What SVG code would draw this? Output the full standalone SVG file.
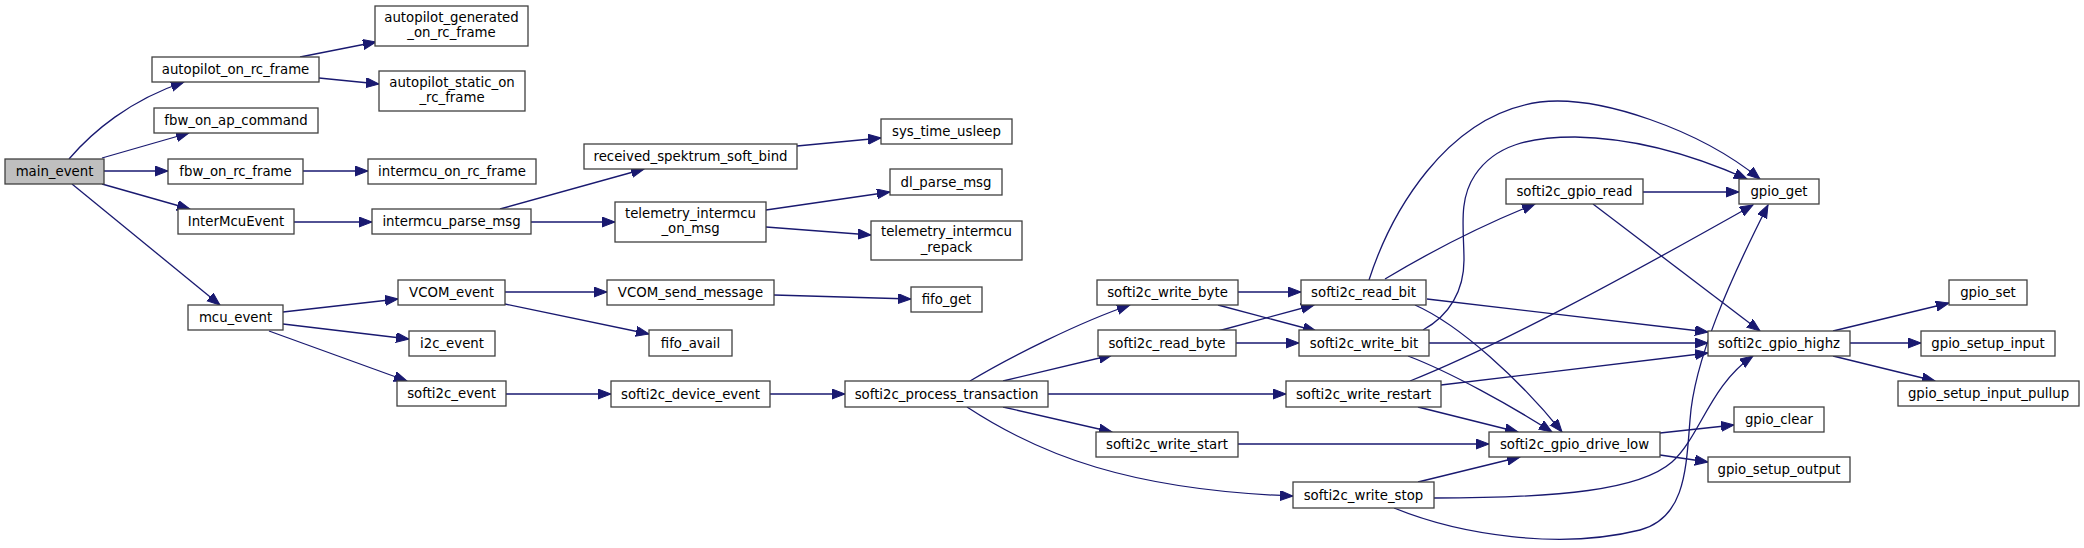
<svg xmlns="http://www.w3.org/2000/svg" width="2084" height="548" viewBox="0 0 2084 548">
<style>
.n rect{fill:#ffffff;stroke:#404040;stroke-width:1.3}
.n text{font-family:"DejaVu Sans","Liberation Sans",sans-serif;font-size:13.3px;fill:#000;text-anchor:middle}
#main_event rect{fill:#bfbfbf}
#edges path{fill:none;stroke:#191970;stroke-width:1.3;marker-end:url(#arr)}
</style>
<defs>
<marker id="arr" markerUnits="userSpaceOnUse" markerWidth="14" markerHeight="11" refX="13" refY="5" orient="auto" viewBox="0 0 14 11">
<path d="M0,0 L13,5 L0,10 z" fill="#191970" stroke="#191970" stroke-width="1"/>
</marker>
</defs>
<rect width="2084" height="548" fill="#ffffff"/>
<g id="edges">
<path d="M69,159 C92,132 130,100 184,82"/>
<path d="M102,158 L189,133"/>
<path d="M104,171 L168,171"/>
<path d="M102,184 L190,209"/>
<path d="M72,184 L220,305"/>
<path d="M300,57 L376,42"/>
<path d="M319,78 L379,84"/>
<path d="M303,171 L368,171"/>
<path d="M294,222 L372,222"/>
<path d="M500,209 L644,169"/>
<path d="M531,222 L615,222"/>
<path d="M797,146 L881,138"/>
<path d="M766,210 L890,192"/>
<path d="M766,227 L871,235"/>
<path d="M283,312 L398,299"/>
<path d="M283,324 L409,339"/>
<path d="M269,331 L407,381"/>
<path d="M505,292 L607,292"/>
<path d="M505,304 L649,334"/>
<path d="M774,295 L911,299"/>
<path d="M506,394 L611,394"/>
<path d="M770,394 L845,394"/>
<path d="M970,381 C1010,357 1080,322 1130,305"/>
<path d="M1003,381 L1112,355"/>
<path d="M1048,394 L1286,394"/>
<path d="M1003,407 L1112,432"/>
<path d="M967,407 C1040,455 1130,490 1293,496"/>
<path d="M1238,292 L1301,292"/>
<path d="M1218,305 L1316,331"/>
<path d="M1218,331 L1314,305"/>
<path d="M1236,343 L1299,343"/>
<path d="M1369,280 C1390,215 1445,115 1540,102 C1600,95 1700,130 1760,179"/>
<path d="M1385,279 C1420,258 1470,230 1535,204"/>
<path d="M1427,299 L1708,332"/>
<path d="M1415,305 C1460,325 1520,380 1562,432"/>
<path d="M1423,330 C1450,315 1464,290 1464,260 C1464,230 1458,200 1475,175 C1495,145 1530,137 1575,137 C1640,138 1700,158 1747,179"/>
<path d="M1429,343 L1708,343"/>
<path d="M1408,356 C1450,372 1510,405 1552,432"/>
<path d="M1410,381 C1500,345 1620,280 1753,205"/>
<path d="M1441,385 L1708,353"/>
<path d="M1418,407 L1518,432"/>
<path d="M1238,444 L1489,444"/>
<path d="M1418,482 L1520,457"/>
<path d="M1434,498 C1560,498 1640,490 1672,462 C1700,437 1710,385 1753,356"/>
<path d="M1394,508 C1460,535 1560,550 1640,530 C1685,518 1686,470 1690,420 C1694,360 1730,280 1768,205"/>
<path d="M1643,192 L1739,192"/>
<path d="M1593,204 L1760,331"/>
<path d="M1833,331 L1949,303"/>
<path d="M1850,343 L1921,343"/>
<path d="M1833,356 L1935,381"/>
<path d="M1660,433 L1734,425"/>
<path d="M1660,455 L1708,462"/>
</g>
<g id="main_event" class="n"><rect x="5" y="159" width="99" height="25"/><text x="54.5" y="176">main_event</text></g>
<g id="autopilot_on_rc_frame" class="n"><rect x="152" y="57" width="167" height="25"/><text x="235.5" y="74">autopilot_on_rc_frame</text></g>
<g id="autopilot_generated_on_rc_frame" class="n"><rect x="375" y="6" width="153" height="40"/><text x="451.5" y="21.5">autopilot_generated</text><text x="451.5" y="37">_on_rc_frame</text></g>
<g id="autopilot_static_on_rc_frame" class="n"><rect x="379" y="71" width="146" height="40"/><text x="452" y="86.5">autopilot_static_on</text><text x="452" y="102">_rc_frame</text></g>
<g id="fbw_on_ap_command" class="n"><rect x="154" y="108" width="164" height="25"/><text x="236" y="125">fbw_on_ap_command</text></g>
<g id="fbw_on_rc_frame" class="n"><rect x="168" y="159" width="135" height="25"/><text x="235.5" y="176">fbw_on_rc_frame</text></g>
<g id="intermcu_on_rc_frame" class="n"><rect x="368" y="159" width="168" height="25"/><text x="452" y="176">intermcu_on_rc_frame</text></g>
<g id="InterMcuEvent" class="n"><rect x="178" y="209" width="116" height="25"/><text x="236" y="226">InterMcuEvent</text></g>
<g id="intermcu_parse_msg" class="n"><rect x="372" y="209" width="159" height="25"/><text x="451.5" y="226">intermcu_parse_msg</text></g>
<g id="mcu_event" class="n"><rect x="188" y="305" width="95" height="25"/><text x="235.5" y="322">mcu_event</text></g>
<g id="VCOM_event" class="n"><rect x="398" y="280" width="107" height="25"/><text x="451.5" y="297">VCOM_event</text></g>
<g id="i2c_event" class="n"><rect x="409" y="331" width="86" height="25"/><text x="452" y="348">i2c_event</text></g>
<g id="softi2c_event" class="n"><rect x="397" y="381" width="109" height="25"/><text x="451.5" y="398">softi2c_event</text></g>
<g id="received_spektrum_soft_bind" class="n"><rect x="584" y="144" width="213" height="25"/><text x="690.5" y="161">received_spektrum_soft_bind</text></g>
<g id="sys_time_usleep" class="n"><rect x="881" y="119" width="131" height="25"/><text x="946.5" y="136">sys_time_usleep</text></g>
<g id="telemetry_intermcu_on_msg" class="n"><rect x="615" y="202" width="151" height="40"/><text x="690.5" y="217.5">telemetry_intermcu</text><text x="690.5" y="233">_on_msg</text></g>
<g id="dl_parse_msg" class="n"><rect x="890" y="169" width="112" height="26"/><text x="946" y="186.5">dl_parse_msg</text></g>
<g id="telemetry_intermcu_repack" class="n"><rect x="871" y="221" width="151" height="39"/><text x="946.5" y="236">telemetry_intermcu</text><text x="946.5" y="251.5">_repack</text></g>
<g id="VCOM_send_message" class="n"><rect x="607" y="280" width="167" height="25"/><text x="690.5" y="297">VCOM_send_message</text></g>
<g id="fifo_get" class="n"><rect x="911" y="287" width="71" height="25"/><text x="946.5" y="304">fifo_get</text></g>
<g id="fifo_avail" class="n"><rect x="649" y="330" width="83" height="26"/><text x="690.5" y="347.5">fifo_avail</text></g>
<g id="softi2c_device_event" class="n"><rect x="611" y="381" width="159" height="26"/><text x="690.5" y="398.5">softi2c_device_event</text></g>
<g id="softi2c_process_transaction" class="n"><rect x="845" y="381" width="203" height="26"/><text x="946.5" y="398.5">softi2c_process_transaction</text></g>
<g id="softi2c_write_byte" class="n"><rect x="1097" y="280" width="141" height="25"/><text x="1167.5" y="297">softi2c_write_byte</text></g>
<g id="softi2c_read_byte" class="n"><rect x="1098" y="330" width="138" height="26"/><text x="1167" y="347.5">softi2c_read_byte</text></g>
<g id="softi2c_write_start" class="n"><rect x="1096" y="432" width="142" height="25"/><text x="1167" y="449">softi2c_write_start</text></g>
<g id="softi2c_read_bit" class="n"><rect x="1301" y="280" width="125" height="25"/><text x="1363.5" y="297">softi2c_read_bit</text></g>
<g id="softi2c_write_bit" class="n"><rect x="1299" y="330" width="130" height="26"/><text x="1364" y="347.5">softi2c_write_bit</text></g>
<g id="softi2c_write_restart" class="n"><rect x="1286" y="381" width="155" height="26"/><text x="1363.5" y="398.5">softi2c_write_restart</text></g>
<g id="softi2c_write_stop" class="n"><rect x="1293" y="482" width="141" height="26"/><text x="1363.5" y="499.5">softi2c_write_stop</text></g>
<g id="softi2c_gpio_read" class="n"><rect x="1506" y="179" width="137" height="25"/><text x="1574.5" y="196">softi2c_gpio_read</text></g>
<g id="softi2c_gpio_drive_low" class="n"><rect x="1489" y="432" width="171" height="25"/><text x="1574.5" y="449">softi2c_gpio_drive_low</text></g>
<g id="gpio_get" class="n"><rect x="1739" y="179" width="80" height="25"/><text x="1779" y="196">gpio_get</text></g>
<g id="softi2c_gpio_highz" class="n"><rect x="1708" y="331" width="142" height="25"/><text x="1779" y="348">softi2c_gpio_highz</text></g>
<g id="gpio_set" class="n"><rect x="1949" y="280" width="78" height="25"/><text x="1988" y="297">gpio_set</text></g>
<g id="gpio_setup_input" class="n"><rect x="1921" y="331" width="134" height="25"/><text x="1988" y="348">gpio_setup_input</text></g>
<g id="gpio_setup_input_pullup" class="n"><rect x="1898" y="381" width="181" height="25"/><text x="1988.5" y="398">gpio_setup_input_pullup</text></g>
<g id="gpio_clear" class="n"><rect x="1734" y="407" width="90" height="25"/><text x="1779" y="424">gpio_clear</text></g>
<g id="gpio_setup_output" class="n"><rect x="1708" y="457" width="142" height="25"/><text x="1779" y="474">gpio_setup_output</text></g>
</svg>
